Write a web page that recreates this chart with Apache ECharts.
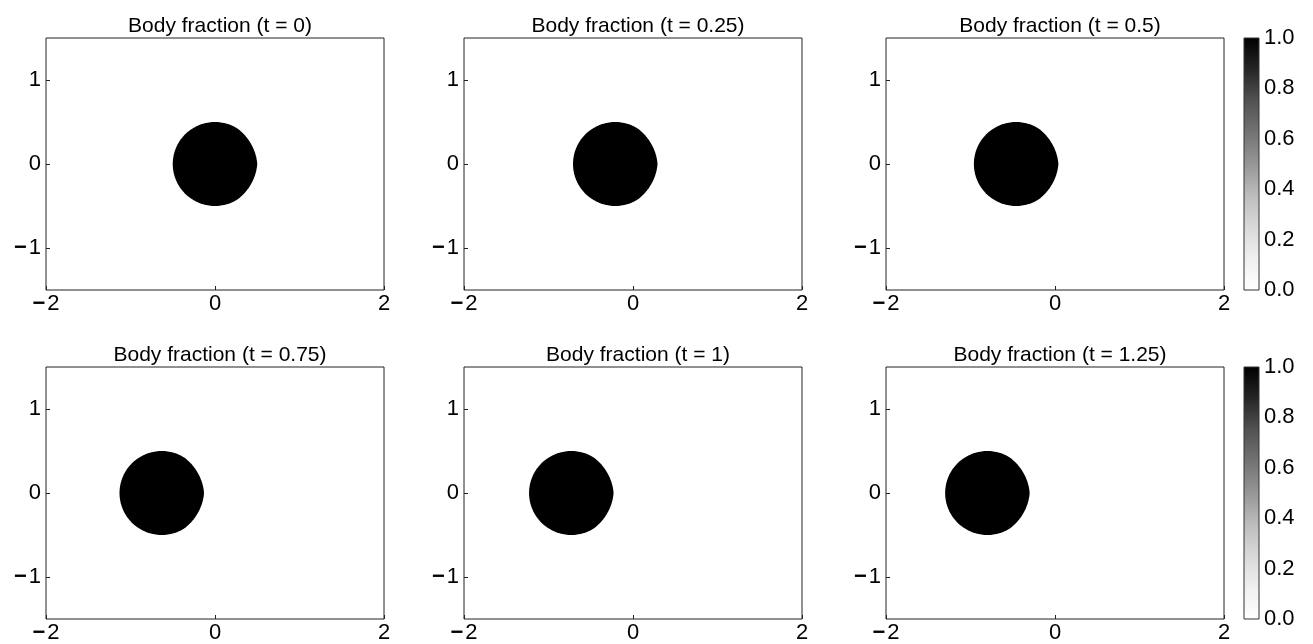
<!DOCTYPE html>
<html>
<head>
<meta charset="utf-8">
<script src="https://cdn.jsdelivr.net/npm/echarts@6/dist/echarts.min.js"></script>
<style>
html,body{margin:0;padding:0;background:#fff;}
#chart{width:1313px;height:644px;}
</style>
</head>
<body>
<div id="chart"></div>
<script>
// ---- data ----
const times = [0, 0.25, 0.5, 0.75, 1, 1.25];
const centerX = [0, -0.21, -0.46, -0.63, -0.73, -0.80];
const centerY = [0, 0, 0, 0, 0, 0];
const radius = [0.5, 0.5, 0.5, 0.5, 0.5, 0.5];
const xTicks = [-2, 0, 2];
const yTicks = [-1, 0, 1];
const cbTicks = [0, 0.2, 0.4, 0.6, 0.8, 1.0];

// ---- layout ----
const colLeft = [46, 464, 886];
const rowTop = [38, 367];
const pw = 338, ph = 252;
const cbLeft = 1244, cbW = 15;
const FONT = '"Liberation Sans", Arial, Helvetica, sans-serif';
const FS = 21;   // titles
const TS = 22;   // tick labels

const chart = echarts.init(document.getElementById('chart'));

const grids = [], xAxes = [], yAxes = [], series = [], titles = [];

function fmtTick(v) {
  if (v < 0) return '{m|\u2212}{n|' + String(Math.abs(v)) + '}';
  return '{n|' + String(v) + '}';
}
const richMinus = {
  m: { fontWeight: 'bold', fontSize: TS, fontFamily: FONT, color: '#000', padding: [0, 2, 0, 0] },
  n: { fontSize: TS, fontFamily: FONT, color: '#000' }
};

function blobItem(params, api) {
  const cx = api.value(0), cy = api.value(1), r = api.value(2);
  const pts = [];
  for (let d = 0; d < 360; d += 2) {
    let th = d * Math.PI / 180;
    let a = d > 180 ? d - 360 : d;
    let rr = r;
    if (Math.abs(a) < 60) {
      rr = r * (1 - 0.022 * Math.sin(Math.abs(a) * 3 * Math.PI / 180));
    }
    pts.push(api.coord([cx + rr * Math.cos(th), cy + rr * Math.sin(th)]));
  }
  return { type: 'polygon', shape: { points: pts }, style: { fill: '#000' } };
}

times.forEach((t, i) => {
  const row = Math.floor(i / 3), col = i % 3;
  const left = colLeft[col], top = rowTop[row];
  grids.push({ left: left, top: top, width: pw, height: ph, show: true, borderColor: '#222', borderWidth: 1, backgroundColor: 'transparent' });
  xAxes.push({
    type: 'value', gridIndex: i, min: -2, max: 2, interval: 2,
    axisLine: { show: false, onZero: false },
    axisTick: { show: true, inside: true, length: 4, lineStyle: { color: '#222' }, customValues: xTicks },
    axisLabel: { color: '#000', fontSize: TS, fontFamily: FONT, margin: 3, formatter: fmtTick, rich: richMinus, customValues: xTicks, showMinLabel: true, showMaxLabel: true },
    splitLine: { show: false }
  });
  yAxes.push({
    type: 'value', gridIndex: i, min: -1.5, max: 1.5,
    axisLine: { show: false, onZero: false },
    axisTick: { show: true, inside: true, length: 4, lineStyle: { color: '#222' }, customValues: yTicks },
    axisLabel: { color: '#000', fontSize: TS, fontFamily: FONT, margin: 5, formatter: fmtTick, rich: richMinus, customValues: yTicks },
    splitLine: { show: false }
  });
  series.push({
    type: 'custom', xAxisIndex: i, yAxisIndex: i, clip: true,
    renderItem: blobItem,
    data: [[centerX[i], centerY[i], radius[i]]],
    silent: true, animation: false
  });
  titles.push({
    text: 'Body fraction (t = ' + t + ')',
    left: left + pw / 2, top: top - 27, textAlign: 'center',
    textStyle: { fontSize: FS, fontWeight: 'normal', color: '#000', fontFamily: FONT }
  });
});

// colorbars
const greys = ['#ffffff', '#f0f0f0', '#d9d9d9', '#bdbdbd', '#969696', '#737373', '#525252', '#252525', '#000000'];
function cbItem(params, api) {
  const p0 = api.coord([0, api.value(0)]);
  const p1 = api.coord([1, api.value(1)]);
  const stops = greys.map((c, k) => ({ offset: 1 - k / (greys.length - 1), color: c }));
  return {
    type: 'rect',
    shape: { x: p0[0], y: p1[1], width: p1[0] - p0[0], height: p0[1] - p1[1] },
    style: { fill: new echarts.graphic.LinearGradient(0, 0, 0, 1, stops.slice().reverse()), stroke: '#333', lineWidth: 1 }
  };
}
[0, 1].forEach(row => {
  const gi = grids.length;
  grids.push({ left: cbLeft, top: rowTop[row], width: cbW, height: ph, show: false });
  xAxes.push({ type: 'value', gridIndex: gi, min: 0, max: 1, show: false });
  yAxes.push({
    type: 'value', gridIndex: gi, min: 0, max: 1, interval: 0.2, position: 'right',
    axisLine: { show: false, onZero: false }, axisTick: { show: false }, splitLine: { show: false },
    axisLabel: { color: '#000', fontSize: TS, fontFamily: FONT, margin: 5, formatter: v => v.toFixed(1), customValues: cbTicks }
  });
  series.push({
    type: 'custom', xAxisIndex: gi, yAxisIndex: gi, renderItem: cbItem,
    data: [[cbTicks[0], cbTicks[cbTicks.length - 1]]], silent: true, animation: false
  });
});

chart.setOption({
  animation: false,
  backgroundColor: '#fff',
  title: titles,
  grid: grids,
  xAxis: xAxes,
  yAxis: yAxes,
  series: series
});
</script>
</body>
</html>
